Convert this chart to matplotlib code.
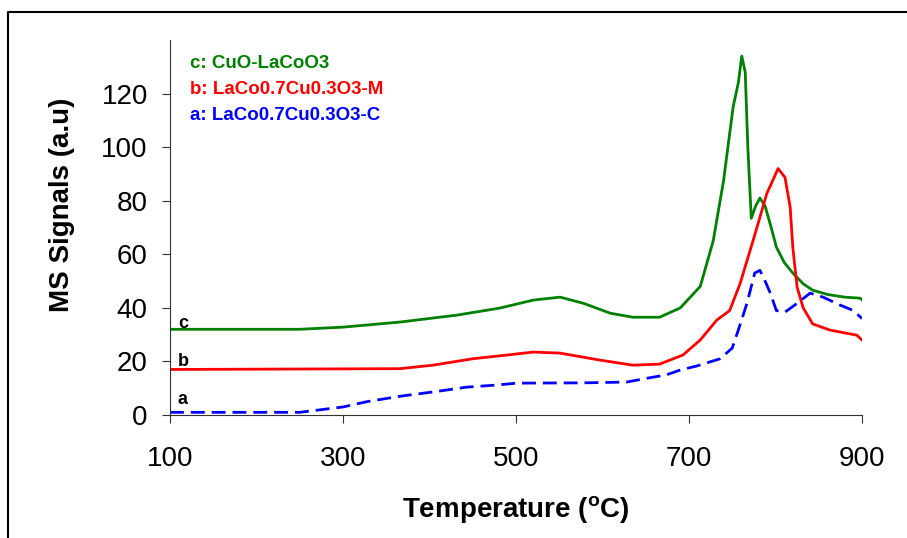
import matplotlib
matplotlib.use("Agg")
import matplotlib.pyplot as plt
from matplotlib.lines import Line2D

plt.rcParams['font.family'] = ['Liberation Sans', 'DejaVu Sans']

# temperatures (C) and MS signals
temp_c = [100, 250, 300, 366, 432, 481, 520, 551, 578, 609, 635, 666, 690, 713, 728,
          740, 751, 757, 761, 765, 768, 772, 777, 782, 788, 795, 801, 810, 820, 832,
          843, 860, 880, 898, 900]
sig_c = [32, 32, 32.8, 34.7, 37.3, 39.9, 42.9, 44, 41.7, 38, 36.5, 36.5, 40, 48, 65,
         87.6, 115, 124, 134, 128, 100, 73.4, 78, 81, 78, 70, 62.7, 57, 53, 49,
         46.6, 45, 44, 43.6, 43]

temp_b = [100, 366, 404, 450, 490, 520, 551, 597, 635, 666, 693, 713, 732, 747, 759,
          774, 790, 803, 811, 817, 820, 825, 832, 843, 863, 894, 900]
sig_b = [17, 17.3, 18.6, 21, 22.4, 23.5, 23.1, 20.5, 18.6, 19, 22.4, 28, 35.4, 39, 49,
         65, 82.7, 92, 88.7, 77.5, 62.6, 47.7, 40, 34, 31.7, 29.8, 28]

temp_a = [100, 250, 300, 328, 366, 404, 443, 478, 501, 578, 628, 651, 674, 690, 709,
          736, 750, 757, 767, 776, 782, 788, 794, 801, 811, 825, 840, 855, 875, 890, 900]
sig_a = [1, 1, 3, 5, 7, 8.6, 10.4, 11.2, 11.9, 12, 12.3, 13.7, 15, 16.8, 18.3,
         21, 25, 31.7, 41.7, 53, 54, 50, 45.5, 39, 38.4, 41.7, 45.5, 44, 41, 39, 36]

names = ['c: CuO-LaCoO3', 'b: LaCo0.7Cu0.3O3-M', 'a: LaCo0.7Cu0.3O3-C']
colors = ['#008000', '#ff0000', '#0000ff']

fig = plt.figure(figsize=(9.07, 5.38), dpi=100)
ax = fig.add_axes([170 / 907, 123 / 538, 692 / 907, 375 / 538])

ax.plot(temp_c, sig_c, color=colors[0], lw=2)
ax.plot(temp_b, sig_b, color=colors[1], lw=2)
ax.plot(temp_a, sig_a, color=colors[2], lw=2, dashes=(5, 2.5))

ax.set_xlim(100, 900)
ax.set_ylim(0, 140)
ax.set_xticks([100, 300, 500, 700, 900])
ax.set_yticks([0, 20, 40, 60, 80, 100, 120])
ax.tick_params(labelsize=20, direction='out', length=6, color='#333333')
ax.tick_params(axis='y', pad=10)
ax.tick_params(axis='x', pad=16)
for s in ['top', 'right']:
    ax.spines[s].set_visible(False)
for s in ['left', 'bottom']:
    ax.spines[s].set_color('#333333')

ax.set_xlabel('Temperature ($\\mathregular{^{o}}$C)', fontsize=20, fontweight='bold', labelpad=16)
ax.set_ylabel('MS Signals (a.u)', fontsize=20, fontweight='bold')
ax.yaxis.set_label_coords(-0.137, 0.56)

# legend-like text block
for i, (n, col) in enumerate(zip(names, colors)):
    fig.text(190 / 907, 1 - (63 + 26.5 * i) / 538, n, color=col, fontsize=13.5,
             fontweight='bold', va='center', ha='left')

# curve letters
for lab, yv in zip(['c', 'b', 'a'], [34.3, 19.8, 5.6]):
    ax.text(109, yv, lab, fontsize=13, fontweight='bold', va='center', ha='left')

# outer frame (only top and left visible)
fig.add_artist(Line2D([8 / 907, 8 / 907, 1.05], [-0.05, 526 / 538, 526 / 538],
                      transform=fig.transFigure, color='black', lw=1.5))

fig.savefig('out.png', dpi=100)
